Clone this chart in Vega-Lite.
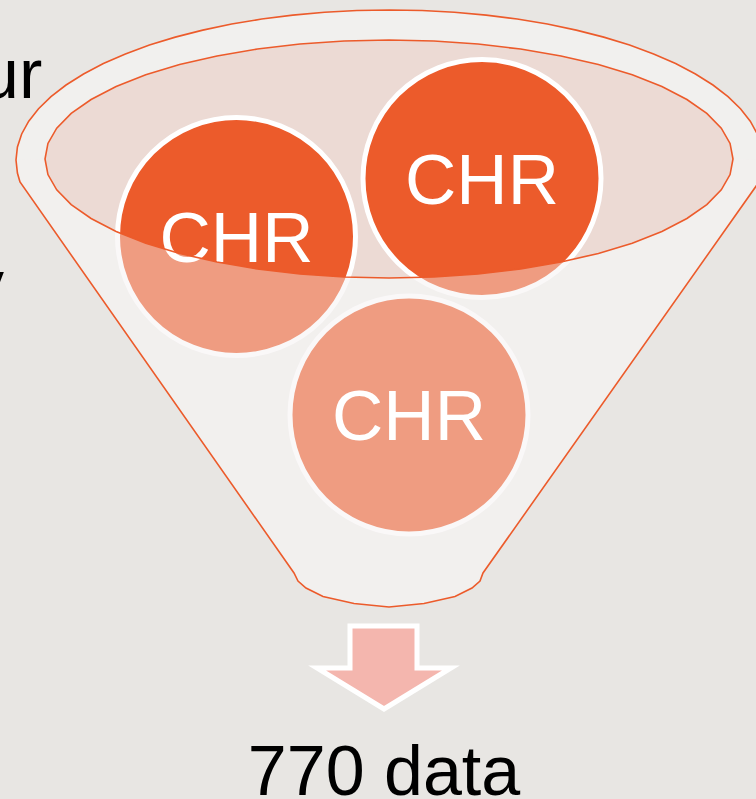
{
  "$schema": "https://vega.github.io/schema/vega-lite/v6.json",
  "width": 756,
  "height": 799,
  "autosize": {"type": "none"},
  "padding": 0,
  "background": "#E8E6E3",
  "config": {"view": {"stroke": null}},
  "datasets": {
    "outline": [
      {"i": 0, "x": 20, "y": 182}, {"i": 1, "x": 17.42, "y": 173.07}, {"i": 2, "x": 16, "y": 160},
      {"i": 3, "x": 17.42, "y": 146.93}, {"i": 4, "x": 21.67, "y": 133.95}, {"i": 5, "x": 28.73, "y": 121.18},
      {"i": 6, "x": 38.53, "y": 108.7}, {"i": 7, "x": 50.99, "y": 96.61}, {"i": 8, "x": 66.04, "y": 85},
      {"i": 9, "x": 83.55, "y": 73.96}, {"i": 10, "x": 103.38, "y": 63.58}, {"i": 11, "x": 125.39, "y": 53.93},
      {"i": 12, "x": 149.42, "y": 45.09}, {"i": 13, "x": 175.27, "y": 37.13}, {"i": 14, "x": 202.75, "y": 30.1},
      {"i": 15, "x": 231.65, "y": 24.05}, {"i": 16, "x": 261.76, "y": 19.05}, {"i": 17, "x": 292.83, "y": 15.11},
      {"i": 18, "x": 324.64, "y": 12.28}, {"i": 19, "x": 356.95, "y": 10.57}, {"i": 20, "x": 389.5, "y": 10},
      {"i": 21, "x": 422.05, "y": 10.57}, {"i": 22, "x": 454.36, "y": 12.28}, {"i": 23, "x": 486.17, "y": 15.11},
      {"i": 24, "x": 517.24, "y": 19.05}, {"i": 25, "x": 547.35, "y": 24.05}, {"i": 26, "x": 576.25, "y": 30.1},
      {"i": 27, "x": 603.73, "y": 37.13}, {"i": 28, "x": 629.58, "y": 45.09}, {"i": 29, "x": 653.61, "y": 53.93},
      {"i": 30, "x": 675.62, "y": 63.58}, {"i": 31, "x": 695.45, "y": 73.96}, {"i": 32, "x": 712.96, "y": 85},
      {"i": 33, "x": 728.01, "y": 96.61}, {"i": 34, "x": 740.47, "y": 108.7}, {"i": 35, "x": 750.27, "y": 121.18},
      {"i": 36, "x": 757.33, "y": 133.95}, {"i": 37, "x": 761.58, "y": 146.93}, {"i": 38, "x": 763, "y": 160},
      {"i": 39, "x": 761.58, "y": 173.07}, {"i": 40, "x": 759, "y": 182},
      {"i": 41, "x": 483, "y": 573}, {"i": 42, "x": 480, "y": 581}, {"i": 43, "x": 472, "y": 588},
      {"i": 44, "x": 455, "y": 596.5}, {"i": 45, "x": 424, "y": 603.5}, {"i": 46, "x": 389, "y": 607},
      {"i": 47, "x": 354, "y": 603.5}, {"i": 48, "x": 323, "y": 596.5}, {"i": 49, "x": 306, "y": 588},
      {"i": 50, "x": 298, "y": 581}, {"i": 51, "x": 294, "y": 573}
    ],
    "inner": [
      {"i": 0, "x": 733, "y": 159}, {"i": 1, "x": 730.06, "y": 143.47}, {"i": 2, "x": 721.28, "y": 128.2},
      {"i": 3, "x": 706.81, "y": 113.46}, {"i": 4, "x": 686.91, "y": 99.5}, {"i": 5, "x": 661.91, "y": 86.56},
      {"i": 6, "x": 632.25, "y": 74.85}, {"i": 7, "x": 598.41, "y": 64.59}, {"i": 8, "x": 561, "y": 55.94},
      {"i": 9, "x": 520.64, "y": 49.06}, {"i": 10, "x": 478.03, "y": 44.05}, {"i": 11, "x": 433.9, "y": 41.02},
      {"i": 12, "x": 389, "y": 40}, {"i": 13, "x": 344.1, "y": 41.02}, {"i": 14, "x": 299.97, "y": 44.05},
      {"i": 15, "x": 257.36, "y": 49.06}, {"i": 16, "x": 217, "y": 55.94}, {"i": 17, "x": 179.59, "y": 64.59},
      {"i": 18, "x": 145.75, "y": 74.85}, {"i": 19, "x": 116.09, "y": 86.56}, {"i": 20, "x": 91.09, "y": 99.5},
      {"i": 21, "x": 71.19, "y": 113.46}, {"i": 22, "x": 56.72, "y": 128.2}, {"i": 23, "x": 47.94, "y": 143.47},
      {"i": 24, "x": 45, "y": 159}, {"i": 25, "x": 47.94, "y": 174.53}, {"i": 26, "x": 56.72, "y": 189.8},
      {"i": 27, "x": 71.19, "y": 204.54}, {"i": 28, "x": 91.09, "y": 218.5}, {"i": 29, "x": 116.09, "y": 231.44},
      {"i": 30, "x": 145.75, "y": 243.15}, {"i": 31, "x": 179.59, "y": 253.41}, {"i": 32, "x": 217, "y": 262.06},
      {"i": 33, "x": 257.36, "y": 268.94}, {"i": 34, "x": 299.97, "y": 273.95}, {"i": 35, "x": 344.1, "y": 276.98},
      {"i": 36, "x": 389, "y": 278}, {"i": 37, "x": 433.9, "y": 276.98}, {"i": 38, "x": 478.03, "y": 273.95},
      {"i": 39, "x": 520.64, "y": 268.94}, {"i": 40, "x": 561, "y": 262.06}, {"i": 41, "x": 598.41, "y": 253.41},
      {"i": 42, "x": 632.25, "y": 243.15}, {"i": 43, "x": 661.91, "y": 231.44}, {"i": 44, "x": 686.91, "y": 218.5},
      {"i": 45, "x": 706.81, "y": 204.54}, {"i": 46, "x": 721.28, "y": 189.8}, {"i": 47, "x": 730.06, "y": 174.53}
    ],
    "front": [
      {"i": 0, "x": 733, "y": 159}, {"i": 1, "x": 730.06, "y": 174.53}, {"i": 2, "x": 721.28, "y": 189.8},
      {"i": 3, "x": 706.81, "y": 204.54}, {"i": 4, "x": 686.91, "y": 218.5}, {"i": 5, "x": 661.91, "y": 231.44},
      {"i": 6, "x": 632.25, "y": 243.15}, {"i": 7, "x": 598.41, "y": 253.41}, {"i": 8, "x": 561, "y": 262.06},
      {"i": 9, "x": 520.64, "y": 268.94}, {"i": 10, "x": 478.03, "y": 273.95}, {"i": 11, "x": 433.9, "y": 276.98},
      {"i": 12, "x": 389, "y": 278}, {"i": 13, "x": 344.1, "y": 276.98}, {"i": 14, "x": 299.97, "y": 273.95},
      {"i": 15, "x": 257.36, "y": 268.94}, {"i": 16, "x": 217, "y": 262.06}, {"i": 17, "x": 179.59, "y": 253.41},
      {"i": 18, "x": 145.75, "y": 243.15}, {"i": 19, "x": 116.09, "y": 231.44}, {"i": 20, "x": 91.09, "y": 218.5},
      {"i": 21, "x": 71.19, "y": 204.54}, {"i": 22, "x": 56.72, "y": 189.8}, {"i": 23, "x": 47.94, "y": 174.53},
      {"i": 24, "x": 45, "y": 159}, {"i": 25, "x": 16, "y": 160}, {"i": 26, "x": 17.42, "y": 173.07},
      {"i": 27, "x": 20, "y": 182}, {"i": 28, "x": 294, "y": 573}, {"i": 29, "x": 298, "y": 581},
      {"i": 30, "x": 306, "y": 588}, {"i": 31, "x": 323, "y": 596.5}, {"i": 32, "x": 354, "y": 603.5},
      {"i": 33, "x": 389, "y": 607}, {"i": 34, "x": 424, "y": 603.5}, {"i": 35, "x": 455, "y": 596.5},
      {"i": 36, "x": 472, "y": 588}, {"i": 37, "x": 480, "y": 581}, {"i": 38, "x": 483, "y": 573},
      {"i": 39, "x": 759, "y": 182}, {"i": 40, "x": 761.58, "y": 173.07}, {"i": 41, "x": 763, "y": 160}
    ],
    "circles": [
      {"label": "CHR", "x": 236.5, "y": 236.5},
      {"label": "CHR", "x": 482, "y": 178.5},
      {"label": "CHR", "x": 409, "y": 415}
    ],
    "arrow": [
      {"i": 0, "x": 350, "y": 626}, {"i": 1, "x": 417, "y": 626}, {"i": 2, "x": 417, "y": 668},
      {"i": 3, "x": 451, "y": 668}, {"i": 4, "x": 384, "y": 709}, {"i": 5, "x": 317, "y": 668},
      {"i": 6, "x": 350, "y": 668}
    ],
    "leftTexts": [
      {"text": "ur", "x": -20, "y": 98},
      {"text": "y", "x": -31, "y": 309}
    ],
    "centerTexts": [
      {"text": "770 data", "x": 384, "y": 795}
    ]
  },
  "layer": [
    {
      "data": {"name": "outline"},
      "mark": {"type": "line", "interpolate": "linear-closed", "fill": "#F1F0EE", "strokeWidth": 0},
      "encoding": {
        "x": {"field": "x", "type": "quantitative", "scale": {"domain": [0, 756], "nice": false, "zero": false}, "axis": null},
        "y": {"field": "y", "type": "quantitative", "scale": {"domain": [0, 799], "nice": false, "zero": false, "reverse": true}, "axis": null},
        "order": {"field": "i", "type": "quantitative"}
      }
    },
    {
      "data": {"name": "inner"},
      "mark": {"type": "line", "interpolate": "linear-closed", "fill": "#ECDAD4", "strokeWidth": 0},
      "encoding": {
        "x": {"field": "x", "type": "quantitative", "axis": null},
        "y": {"field": "y", "type": "quantitative", "axis": null},
        "order": {"field": "i", "type": "quantitative"}
      }
    },
    {
      "data": {"name": "circles"},
      "mark": {"type": "circle", "size": 56644, "fill": "#EC5B2B", "opacity": 1, "stroke": "#FFFFFF", "strokeWidth": 5},
      "encoding": {
        "x": {"field": "x", "type": "quantitative", "axis": null},
        "y": {"field": "y", "type": "quantitative", "axis": null}
      }
    },
    {
      "data": {"name": "front"},
      "mark": {"type": "line", "interpolate": "linear-closed", "fill": "#F3F0EE", "fillOpacity": 0.44, "strokeWidth": 0},
      "encoding": {
        "x": {"field": "x", "type": "quantitative", "axis": null},
        "y": {"field": "y", "type": "quantitative", "axis": null},
        "order": {"field": "i", "type": "quantitative"}
      }
    },
    {
      "data": {"name": "circles"},
      "mark": {"type": "text", "font": "Liberation Sans", "fontSize": 71, "color": "#FFFFFF", "align": "center", "baseline": "alphabetic", "dy": 25},
      "encoding": {
        "x": {"field": "x", "type": "quantitative", "axis": null},
        "y": {"field": "y", "type": "quantitative", "axis": null},
        "text": {"field": "label"}
      }
    },
    {
      "data": {"name": "outline"},
      "mark": {"type": "line", "interpolate": "linear-closed", "stroke": "#EC5B2B", "strokeWidth": 1.6},
      "encoding": {
        "x": {"field": "x", "type": "quantitative", "axis": null},
        "y": {"field": "y", "type": "quantitative", "axis": null},
        "order": {"field": "i", "type": "quantitative"}
      }
    },
    {
      "data": {"name": "inner"},
      "mark": {"type": "line", "interpolate": "linear-closed", "stroke": "#EC5B2B", "strokeWidth": 1.6},
      "encoding": {
        "x": {"field": "x", "type": "quantitative", "axis": null},
        "y": {"field": "y", "type": "quantitative", "axis": null},
        "order": {"field": "i", "type": "quantitative"}
      }
    },
    {
      "data": {"name": "arrow"},
      "mark": {"type": "line", "interpolate": "linear-closed", "fill": "#F4B6AE", "stroke": "#FFFFFF", "strokeWidth": 5, "strokeJoin": "miter"},
      "encoding": {
        "x": {"field": "x", "type": "quantitative", "axis": null},
        "y": {"field": "y", "type": "quantitative", "axis": null},
        "order": {"field": "i", "type": "quantitative"}
      }
    },
    {
      "data": {"name": "leftTexts"},
      "mark": {"type": "text", "font": "Liberation Sans", "fontSize": 70, "color": "#000000", "align": "left", "baseline": "alphabetic"},
      "encoding": {
        "x": {"field": "x", "type": "quantitative", "axis": null},
        "y": {"field": "y", "type": "quantitative", "axis": null},
        "text": {"field": "text"}
      }
    },
    {
      "data": {"name": "centerTexts"},
      "mark": {"type": "text", "font": "Liberation Sans", "fontSize": 70, "color": "#000000", "align": "center", "baseline": "alphabetic"},
      "encoding": {
        "x": {"field": "x", "type": "quantitative", "axis": null},
        "y": {"field": "y", "type": "quantitative", "axis": null},
        "text": {"field": "text"}
      }
    }
  ]
}
